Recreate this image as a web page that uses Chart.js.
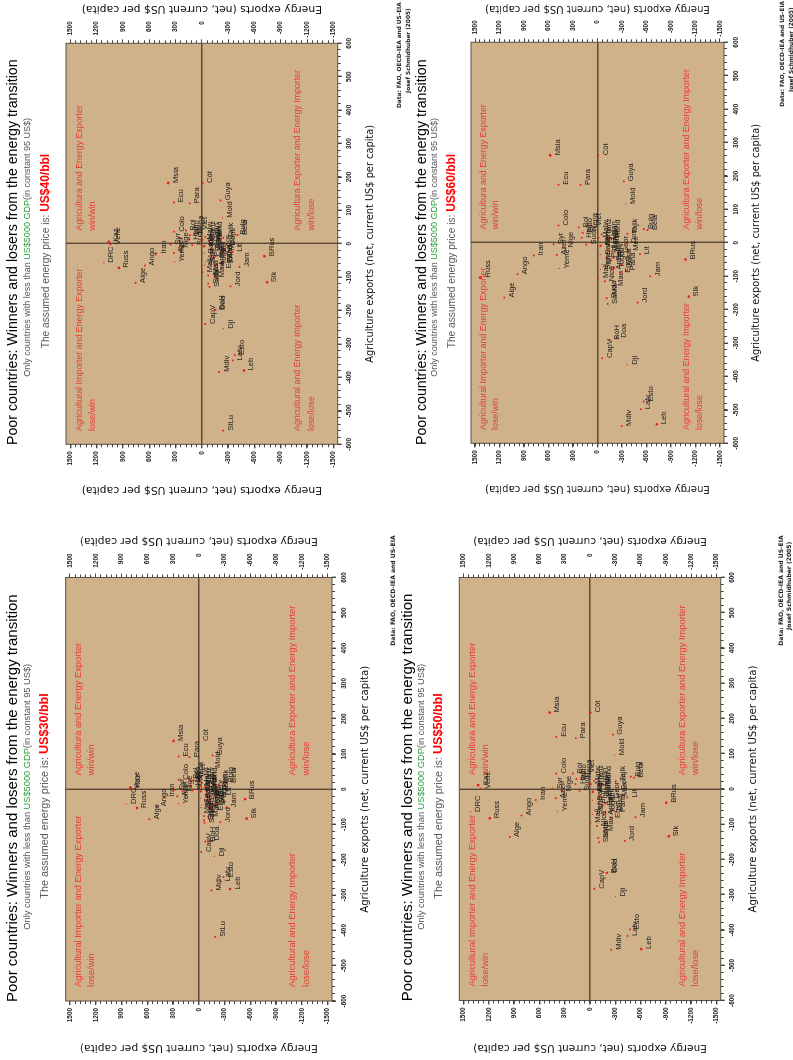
<!DOCTYPE html>
<html><head><meta charset="utf-8">
<script src="https://cdn.jsdelivr.net/npm/chart.js@4"></script>
<style>
html,body{margin:0;padding:0;background:#fff;width:793px;height:1060px;overflow:hidden}
.panel{position:absolute;transform-origin:0 0;transform:rotate(-90deg);filter:blur(0.35px)}
.panel canvas{position:absolute;left:0;top:0}
.t{position:absolute;white-space:nowrap;font-family:"Liberation Sans",Arial,sans-serif;line-height:20px;height:20px}
</style></head><body>
<script>
const countries=["Msia","Ecu","Para","Côt","Guya","Mold","Colo","Kaz","Vene","DRC","Russ","Alge","Ango","Iran","Syr","Yeme","Azer","Nige","BRus","Slk","Jam","Lit","Jord","Bulg","Bela","Dji","Doa","BoH","CapV","Mdiv","Leb","Latv","Esto","StLu","SaMa","Suda","Mau","Pana","Mex","Dom","Tajik","Bol","Indo","Sudn","Viet","Nepa","Malw","Hond","Tanz","Ugan","Ghan","Keny","Zamb","Bang","Paki","Sene","Mali","Togo","Nica","Guat","Egyp","Moro","Tuni","Phil","Sri","Geor","Arme","Alb","Hait"];
const agri30=[137,93,91,137,96,60,27,5,1,-42,-53,-85,-48,-21,-2,-41,-20,-6,-28,-83,-51,-17,-93,20,18,-190,-145,-148,-178,-287,-283,-261,-249,-418,-95,-88,-78,-38,-14,-3,12,30,22,-3,35,26,10,10,18,6,-4,-6,-14,-25,-36,-52,-68,-50,-76,-44,-60,-18,-30,-30,-45,-20,-55,-6,10];
const energy30=[295,236,108,0,-159,-140,236,797,805,844,720,577,488,403,283,236,250,190,-538,-557,-325,-267,-248,-294,-325,-178,-120,-74,-27,-147,-364,-256,-286,-190,-65,-60,-110,-210,-230,-215,-230,120,95,70,35,60,-10,-105,-35,-70,-90,-25,-85,-20,-115,-25,-8,-135,-60,-180,-170,-100,-135,-70,-35,-170,-120,-20,100];
const agri40=[182,124,121,182,130,78,36,6,-2,-57,-72,-117,-65,-29,-2,-54,-27,-12,-37,-115,-69,-24,-127,28,26,-254,-197,-198,-240,-383,-379,-349,-333,-559,-119,-129,-100,-57,-19,-5,18,40,26,-4,42,30,12,12,20,8,-4,-6,-16,-28,-42,-64,-85,-62,-95,-54,-74,-20,-37,-37,-54,-25,-66,-8,12];
const energy40=[384,319,137,-11,-213,-232,315,1060,1041,1117,946,756,649,520,357,311,319,262,-714,-744,-429,-353,-327,-384,-410,-243,-156,-148,-38,-197,-482,-353,-376,-243,-72,-87,-145,-232,-258,-270,-243,180,135,110,50,90,-10,-125,-40,-85,-110,-30,-100,-25,-140,-28,-10,-165,-72,-240,-225,-120,-160,-85,-42,-210,-145,-25,150];
const agri50=[217,148,144,217,154,96,44,11,1,-65,-83,-136,-75,-31,1,-63,-26,-7,-39,-134,-80,-24,-147,35,32,-305,-237,-239,-283,-456,-454,-417,-398,null,-151,-139,-119,-65,-20,-2,22,44,28,-5,46,32,14,14,23,9,-5,-7,-18,-32,-47,-72,-96,-68,-105,-60,-82,-23,-41,-41,-60,-27,-73,-9,14];
const energy50=[478,399,170,-8,-272,-292,399,1326,1295,1413,1188,951,813,643,446,387,407,336,-904,-936,-541,-442,-411,-482,-521,-304,-205,-197,-51,-253,-608,-446,-474,null,-107,-99,-166,-304,-332,-316,-304,205,160,125,60,105,-12,-140,-48,-95,-122,-36,-110,-30,-152,-30,-11,-185,-82,-270,-250,-132,-178,-96,-48,-232,-160,-30,172];
const agri60=[262,174,173,262,184,116,52,null,null,null,-104,-164,-94,-38,-4,-77,-36,-14,-50,-161,-100,-34,-179,41,38,-365,-284,-290,-345,-548,-543,-498,-475,null,-183,-166,-129,-82,-24,-1,27,46,30,-5,50,35,15,15,25,10,-5,-8,-20,-35,-52,-80,-105,-75,-115,-65,-90,-25,-45,-45,-65,-30,-80,-10,15];
const energy60=[580,478,208,-8,-322,-347,478,null,null,null,1437,1143,980,780,535,469,498,412,-1078,-1118,-645,-522,-494,-567,-612,-363,-237,-147,-57,-298,-727,-531,-567,null,-127,-114,-196,-347,-380,-359,-367,229,180,139,73,122,-12,-155,-53,-106,-135,-41,-122,-33,-167,-33,-12,-204,-90,-298,-278,-147,-196,-106,-53,-257,-176,-33,192];
const agriTicks=[600,500,400,300,200,100,0,-100,-200,-300,-400,-500,-600];
const energyTicks=[1500,1200,900,600,300,0,-300,-600,-900,-1200,-1500];
const quadrants=[
 {x:40,lines:["Agricultura and Energy Exporter","win/win"],ys:[1400,1245]},
 {x:-560,lines:["Agricultural Importer and Energy Exporter","lose/win"],ys:[1400,1245]},
 {x:40,lines:["Agricultura Exporter and Energy Importer","win/lose"],ys:[-1095,-1255]},
 {x:-560,lines:["Agricultural and Energy Importer","lose/lose"],ys:[-1095,-1255]}];
const titleText="Poor countries: Winners and losers from the energy transition";
const energyTitle="Energy exports (net, current US$ per capita)";
const agriTitle="Agriculture exports (net, current US$ per capita)";
const bigDots=new Set(["Msia","Slk","Leb","BRus","Russ","Kaz"]);
const faintDots=new Set(["DRC","Yeme","Mold","Dji","Sene","Mali","Bang","Sri"]);

const panels=[
 {price:"US$30/bbl",ag:agri30,en:energy30,x0:0,y0:520,W:540,H:400,plot:[65.7,332,577.5,1001],tx:[12.3,26.7,44.3],tys:[1002,929.7,898.7],agX:365.7,enY:[540.7,1048.5],fs:[15,9.25,10.8,12.6],qf:9.3,enF:10.7,agF:10.2,yRw:24,cf:6.05,
  credit:[[393,645.7,"Data: FAO, OECD-IEA and US-EIA"]]},
 {price:"US$50/bbl",ag:agri50,en:energy50,x0:400,y0:520,W:540,H:393,plot:[459.3,720.7,577.5,1000.5],tx:[406.7,421,438.3],tys:[1001.3,929.7,898.7],agX:753.3,enY:[540.7,1048.5],fs:[15,9.25,10.8,12.6],qf:9.3,enF:10.5,agF:10.2,yRw:24,cf:6.05,
  credit:[[780.7,645.7,"Data: FAO, OECD-IEA and US-EIA"],[789,630,"Josef Schmidhuber (2005)"]]},
 {price:"US$40/bbl",ag:agri40,en:energy40,x0:0,y0:0,W:520,H:400,plot:[66,337.7,43.3,444.3],tx:[12.3,26.7,45],tys:[445,376.7,348.3],agX:370.7,enY:[9.3,490],fs:[14.2,9,10.2,12],qf:8.8,enF:10.8,agF:9.8,yRw:22,cf:5.8,
  credit:[[398.5,108,"Data: FAO, OECD-IEA and US-EIA"],[408,93,"Josef Schmidhuber (2005)"]]},
 {price:"US$60/bbl",ag:agri60,en:energy60,x0:400,y0:0,W:520,H:393,plot:[471,724,42.3,443.3],tx:[420.7,434.3,450.7],tys:[445,376.7,348.3],agX:756,enY:[8.5,489],fs:[14.2,9,10.2,12],qf:8.8,enF:10.1,agF:9.8,yRw:22,cf:5.8,
  credit:[[781.7,106.7,"Data: FAO, OECD-IEA and US-EIA"],[790.7,92,"Josef Schmidhuber (2005)"]]}
];

function addText(div,p,imgX,imgY,html,css){
 const e=document.createElement('div');e.className='t';
 e.style.left=(p.y0+p.W-imgY)+'px';e.style.top=(imgX-p.x0-10)+'px';
 e.style.cssText+=css;e.innerHTML=html;div.appendChild(e);
}
panels.forEach(p=>{
 const div=document.createElement('div');div.className='panel';
 div.style.cssText=`left:${p.x0}px;top:${p.y0+p.W}px;width:${p.W}px;height:${p.H}px`;
 document.body.appendChild(div);
 const cv=document.createElement('canvas');cv.width=p.W;cv.height=p.H;cv.style.width=p.W+'px';cv.style.height=p.H+'px';div.appendChild(cv);
 addText(div,p,p.tx[0],p.tys[0],titleText,`font-size:${p.fs[0]}px;color:#000`);
 addText(div,p,p.tx[1],p.tys[1],'Only countries with less than <span style="color:#2e9e3e">US$5000 GDP</span>(in constant 95 US$)',`font-size:${p.fs[1]}px;color:#555`);
 addText(div,p,p.tx[2],p.tys[2],`The assumed energy price is: <span style="color:#f00;font-weight:bold;font-size:${p.fs[3]}px">${p.price}</span>`,`font-size:${p.fs[2]}px;color:#555`);
 p.credit.forEach(c=>addText(div,p,c[0],c[1],c[2],`font-size:${p.cf}px;font-weight:bold;color:#222;font-family:"DejaVu Sans"`));
 const u0=p.y0+p.W-p.plot[3],u1=p.y0+p.W-p.plot[2],v0=p.plot[0]-p.x0,v1=p.plot[1]-p.x0;
 const agV=p.agX-p.x0,enL=p.y0+p.W-p.enY[1],enR=p.y0+p.W-p.enY[0];
 const lh=12,padL=enL-lh/2,padR=p.W-(u1+p.yRw),padB=p.H-(agV+lh/2);
 const tickFont={family:'"Liberation Sans"',size:6.4,weight:'bold'};
 const zero=ctx=>ctx.tick&&ctx.tick.value===0?'#5a4a38':'rgba(0,0,0,0)';
 const sz=(axis,n)=>s=>{s[axis]=n};
 const pts=[];countries.forEach((n,i)=>{if(p.ag[i]!==null)pts.push({x:p.ag[i],y:p.en[i],name:n})});
 const base={grid:{drawOnChartArea:false,tickColor:'#444',tickLength:3},border:{display:false}};
 new Chart(cv,{type:'scatter',
  data:{datasets:[{label:p.price,data:pts,showLine:false,backgroundColor:'#ee1c1c',borderWidth:0,
    pointRadius:c=>{const n=c.raw&&c.raw.name;return bigDots.has(n)?1.35:faintDots.has(n)?0.65:1}}]},
  options:{responsive:false,animation:false,devicePixelRatio:1,events:[],
   layout:{padding:{left:padL,right:padR,top:v0,bottom:padB}},
   plugins:{legend:{display:false},tooltip:{enabled:false},title:{display:false}},
   scales:{
    x:{type:'linear',position:'bottom',min:-600,max:600,afterBuildTicks:s=>{s.ticks=agriTicks.map(v=>({value:v}))},
      afterFit:sz('height',agV+lh/2-v1),
      ticks:{autoSkip:false,maxRotation:0,minRotation:0,font:tickFont,color:'#222',padding:4,callback:v=>String(v)},
      grid:{drawOnChartArea:true,color:zero,lineWidth:1.4,tickColor:'#444',tickLength:4},border:{display:false},
      title:{display:true,text:agriTitle,font:{family:'"DejaVu Sans"',size:p.agF},color:'#111',padding:0}},
    y:{type:'linear',position:'left',min:-1550,max:1550,afterBuildTicks:s=>{s.ticks=energyTicks.map(v=>({value:v}))},
      afterFit:sz('width',u0-padL),
      ticks:{autoSkip:false,font:tickFont,color:'#222',padding:3,callback:v=>String(v)},
      grid:{drawOnChartArea:true,color:zero,lineWidth:1.4,tickColor:'#444',tickLength:4},border:{display:false},
      title:{display:true,text:energyTitle,font:{family:'"DejaVu Sans"',size:p.enF},color:'#111',padding:0}},
    yR:{type:'linear',position:'right',min:-1550,max:1550,afterBuildTicks:s=>{s.ticks=energyTicks.map(v=>({value:v}))},
      afterFit:sz('width',p.yRw),
      ticks:{autoSkip:false,font:tickFont,color:'#222',padding:3,crossAlign:'far',callback:v=>String(v)},
      grid:{drawOnChartArea:false,tickColor:'#444',tickLength:4},border:{display:false}},
    xMinor:{type:'linear',position:'bottom',min:-600,max:600,weight:-1,afterFit:sz('height',0),
      ticks:{display:false,stepSize:20,autoSkip:false,includeBounds:false,maxTicksLimit:100},...base},
    yMinorL:{type:'linear',position:'left',min:-1550,max:1550,weight:-1,afterFit:sz('width',0),
      ticks:{display:false,stepSize:60,autoSkip:false,includeBounds:false,maxTicksLimit:100},...base},
    yMinorR:{type:'linear',position:'right',min:-1550,max:1550,weight:-1,afterFit:sz('width',0),
      ticks:{display:false,stepSize:60,autoSkip:false,includeBounds:false,maxTicksLimit:100},...base}
   }},
  plugins:[{id:'panelDecor',
   beforeDraw(c){const a=c.chartArea,g=c.ctx;g.save();g.fillStyle='#cfb18a';g.fillRect(a.left,a.top,a.width,a.height);g.strokeStyle='#5a5045';g.lineWidth=1;g.strokeRect(a.left,a.top,a.width,a.height);g.restore();},
   afterDatasetsDraw(c){const g=c.ctx,xs=c.scales.x,ys=c.scales.y;g.save();
    g.font='7.6px "Liberation Sans"';g.fillStyle='#1a1a1a';g.textAlign='left';g.textBaseline='middle';
    pts.forEach(pt=>g.fillText(pt.name,xs.getPixelForValue(pt.x),ys.getPixelForValue(pt.y)+7.3));
    g.font=p.qf+'px "Liberation Sans"';g.fillStyle='#e83a34';
    quadrants.forEach(q=>q.lines.forEach((l,i)=>g.fillText(l,xs.getPixelForValue(q.x),ys.getPixelForValue(q.ys[i]))));
    g.font=p.enF+'px "DejaVu Sans"';g.fillStyle='#111';g.textAlign='center';
    g.translate(enR,(c.chartArea.top+c.chartArea.bottom)/2);g.rotate(-Math.PI/2);g.fillText(energyTitle,0,0);
    g.restore();}
  }]
 });
});
</script></body></html>
